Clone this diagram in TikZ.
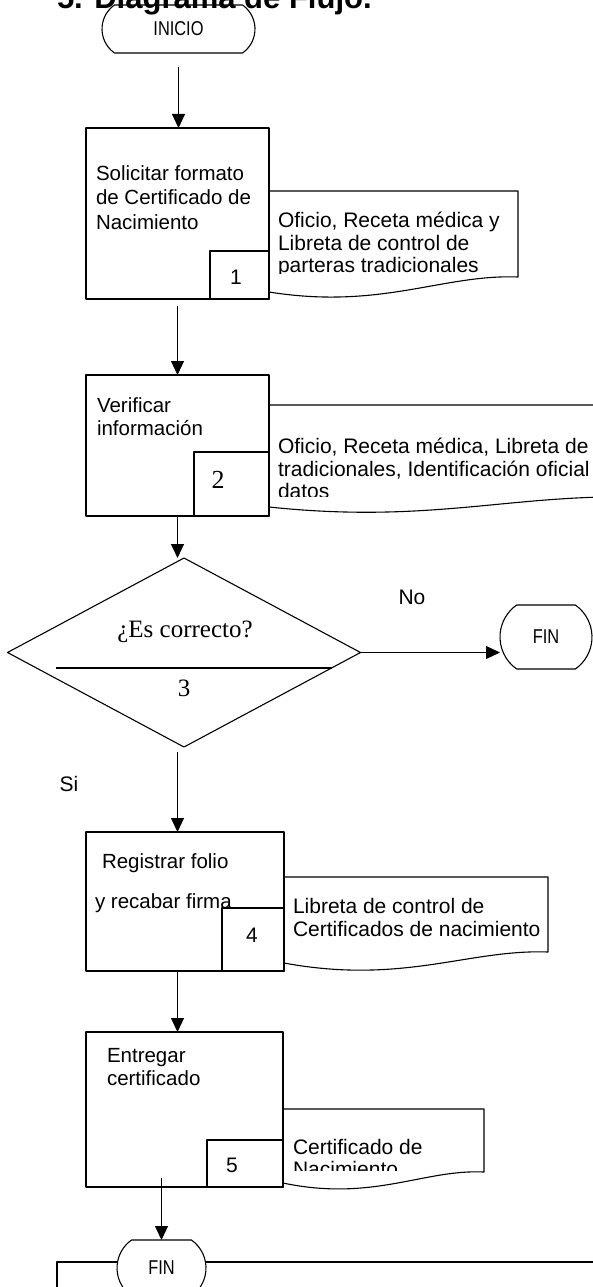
\documentclass[tikz,border=0pt]{standalone}
\usepackage{fontspec}
\setmainfont{Liberation Sans}
\newfontfamily\romanfont{Liberation Serif}
\newfontfamily\narrowfont[FakeStretch=0.82]{Liberation Sans}
\usetikzlibrary{arrows.meta,shapes.misc,shapes.geometric}

\begin{document}
\begin{tikzpicture}[x=1pt, y=-1pt, line join=round, >={Triangle[length=14pt,width=13pt]},
	every node/.style={inner sep=0pt, outer sep=0pt},
	caja/.style={draw, line width=1.1pt},
	term/.style={caja, rounded rectangle, rounded rectangle arc length=110, font=\narrowfont\fontsize{20}{20}\selectfont},
	num/.style={caja, fill=white},
	txt/.style={anchor=north west, align=left, font=\fontsize{20.5}{#1}\selectfont},
	txt/.default=23,
	doc/.style={anchor=north west, align=left, font=\fontsize{21}{#1}\selectfont},
	doc/.default=23,
	etq/.style={font=\fontsize{21}{21}\selectfont},
	flecha/.style={->, line width=1.1pt}]
	\fill[white] (0,0) rectangle (593,1287);
	\useasboundingbox (0,0) rectangle (593,1287);
	\node[anchor=base west, font=\bfseries\fontsize{31}{31}\selectfont] (titulo) at (57,9) {5. Diagrama de Flujo.};
	
	% inicio y fin
	\node[term, minimum width=153pt, minimum height=48pt] (inicio) at (178.5,29) {INICIO};
	\node[term, minimum width=92pt, minimum height=64pt] (finno) at (546,637) {FIN};
	\node[term, minimum width=89pt, minimum height=56pt] (fin) at (161.5,1268) {FIN};
	
	% procesos
	\node[caja, minimum width=183pt, minimum height=171pt] (solic) at (177.5,213.5) {};
	\node[caja, minimum width=183pt, minimum height=141pt] (verif) at (177.5,445.5) {};
	\node[caja, minimum width=198pt, minimum height=139pt] (regis) at (185,901.5) {};
	\node[caja, minimum width=197pt, minimum height=155pt] (entre) at (184.5,1109.5) {};
	\node[caja, diamond, minimum width=353pt, minimum height=189pt] (esok) at (184,652.5) {};
	\node[txt=24.5] (solic-t) at (96,163) {\strut Solicitar formato\\de Certificado de\\Nacimiento};
	\node[txt] (verif-t) at (97,396) {\strut Verificar\\información};
	\node[txt=24] (regis-a) at (102,852) {\strut Registrar folio};
	\node[txt=24] (regis-b) at (95,892) {\strut y recabar firma};
	\node[txt] (entre-t) at (107,1046) {\strut Entregar\\certificado};
	
	% documentos
	\draw[caja] (269,191) -- (518,191) -- (518,277) .. controls (443,274) and (381,310) .. (269,292);
	\draw[caja] (269,405) -- (640,405) -- (640,497) .. controls (510,494) and (430,524) .. (269,507);
	\draw[caja] (284,877) -- (548,877) -- (548,952) .. controls (469,949) and (403,985) .. (284,963);
	\draw[caja] (283,1109) -- (484,1109) -- (484,1172) .. controls (424,1169) and (373,1202) .. (283,1183);
	\begin{scope}
		\clip (269,191) rectangle (518,273);
		\node[doc=22.5] (doc1-t) at (278,212) {\strut Oficio, Receta médica y\\Libreta de control de\\parteras tradicionales};
	\end{scope}
	\begin{scope}
		\clip (269,405) rectangle (640,496);
		\node[doc=22] (doc2-t) at (278,438) {\strut Oficio, Receta médica, Libreta de control\\tradicionales, Identificación oficial\\datos};
	\end{scope}
	\node[doc] (doc4-t) at (293,897) {\strut Libreta de control de\\Certificados de nacimiento};
	\begin{scope}
		\clip (283,1109) rectangle (484,1170);
		\node[doc=20] (doc5-t) at (293,1139) {\strut Certificado de\\Nacimiento};
	\end{scope}
	
	% numeros
	\node[num, minimum width=59pt, minimum height=48pt] (n1) at (239.5,275) {};
	\node[num, minimum width=75pt, minimum height=64pt] (n2) at (231.5,484) {};
	\node[num, minimum width=62pt, minimum height=63pt] (n4) at (253,939.5) {};
	\node[num, minimum width=76pt, minimum height=47pt] (n5) at (245,1163.5) {};
	\node[etq] (n1-t) at (236,277) {1};
	\node[font=\romanfont\fontsize{26}{26}\selectfont] (n2-t) at (218,480) {2};
	\node[etq] (n4-t) at (252,935) {4};
	\node[etq] (n5-t) at (232,1165) {5};
	
	% decision
	\draw[line width=1.1pt] (56,668) -- (332,668);
	\node[font=\romanfont\fontsize{25}{25}\selectfont] (esok-t) at (185,632) {¿Es correcto?};
	\node[font=\romanfont\fontsize{25}{25}\selectfont] (esok-n) at (184,688) {3};
	\node[etq] (no) at (412,597) {No};
	\node[etq] (si) at (69,784) {Si};
	
	% flechas
	\draw[flecha, shorten <=14pt] (inicio.south) -- (inicio.south |- solic.north);
	\draw[flecha, shorten <=7pt] (solic.south) -- (verif.north);
	\draw[flecha] (verif.south) -- (verif.south |- esok.north);
	\draw[flecha] (esok.east) -- (esok.east -| finno.west);
	\draw[flecha] ([yshift=-5pt]esok.south -| solic.south) -- (solic.south |- regis.north);
	\draw[flecha] (regis.south -| solic.south) -- (solic.south |- entre.north);
	\draw[flecha] ([yshift=9pt]entre.south -| fin.north) -- (fin.north);
	
	% marco inferior
	\coordinate (marcoL) at (57,1262);
	\coordinate (marcoR) at (600,1262);
	\draw[line width=1.1pt] (57,1300) -- (marcoL) -- (marcoL -| fin.west);
	\draw[line width=1.1pt] (marcoR -| fin.east) -- (marcoR);
\end{tikzpicture}
\end{document}
